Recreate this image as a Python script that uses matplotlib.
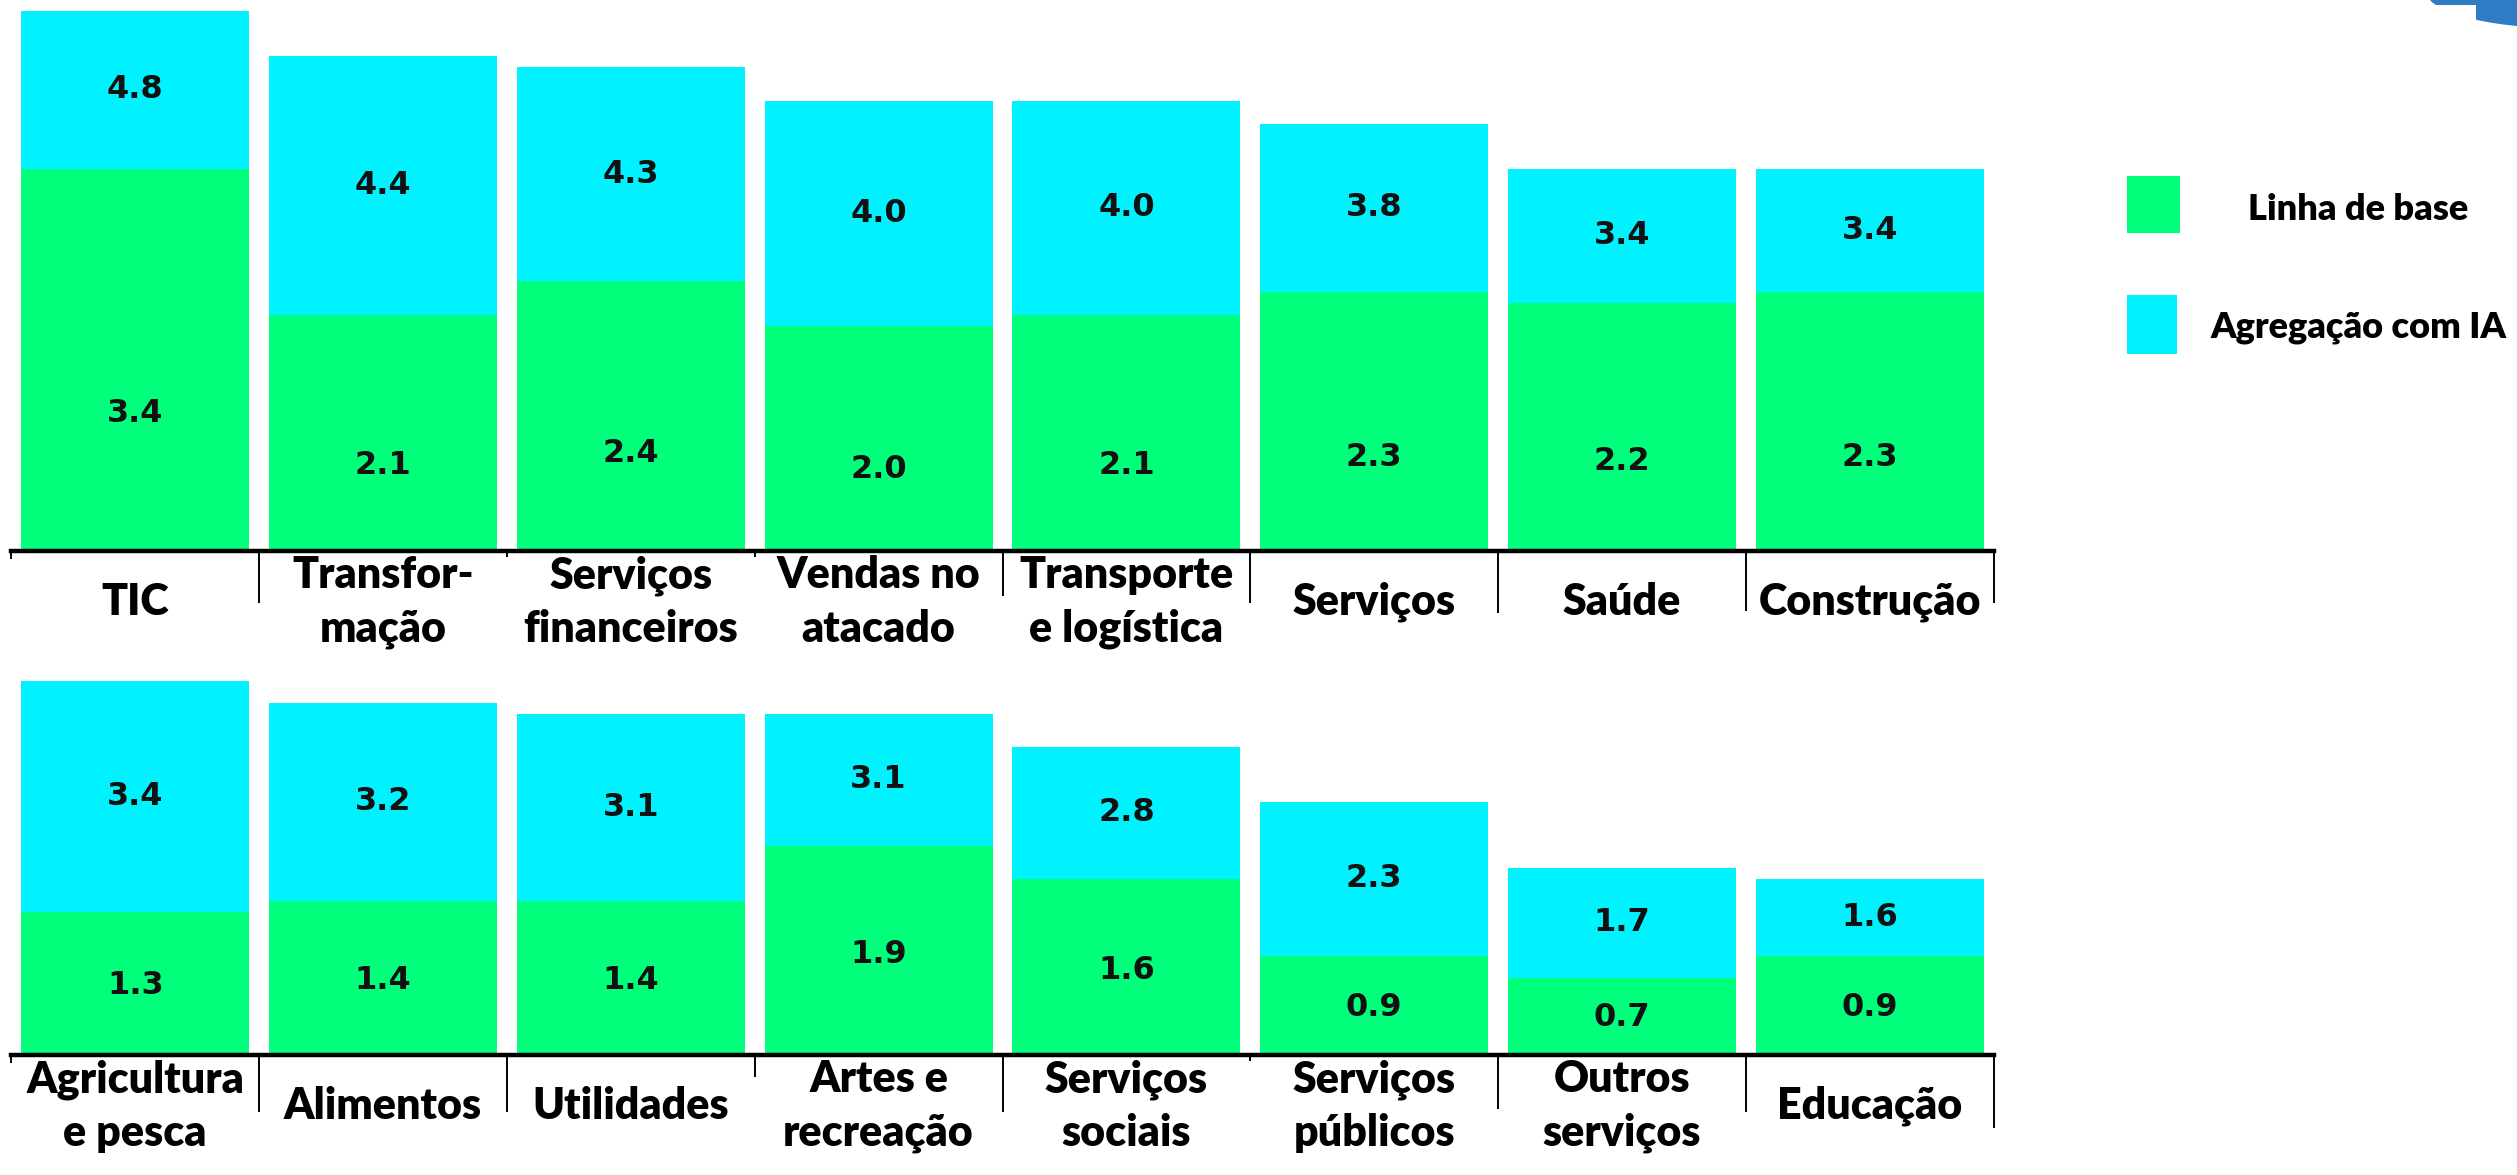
#!/usr/bin/env python3
"""Stacked bars: baseline vs. AI-aggregated value per sector, in two rows."""

import matplotlib

matplotlib.use("Agg")
import matplotlib.pyplot as plt
from matplotlib.patches import Ellipse, Rectangle

# --- data -------------------------------------------------------------------
top_categories = ["TIC", "Transfor-\nmação", "Serviços\nfinanceiros", "Vendas no\natacado",
                  "Transporte\ne logística", "Serviços", "Saúde", "Construção"]
top_base = [3.4, 2.1, 2.4, 2.0, 2.1, 2.3, 2.2, 2.3]
top_total = [4.8, 4.4, 4.3, 4.0, 4.0, 3.8, 3.4, 3.4]

bottom_categories = ["Agricultura\ne pesca", "Alimentos", "Utilidades", "Artes e\nrecreação",
                     "Serviços\nsociais", "Serviços\npúblicos", "Outros\nserviços", "Educação"]
bottom_base = [1.3, 1.4, 1.4, 1.9, 1.6, 0.9, 0.7, 0.9]
bottom_total = [3.4, 3.2, 3.1, 3.1, 2.8, 2.3, 1.7, 1.6]

legend_labels = ["Linha de base", "Agregação com IA"]

GREEN = "#00FF7A"
CYAN = "#00F2FF"
LABEL_FONT = ["Lato", "DejaVu Sans"]
VALUE_FONT = ["DejaVu Sans"]

# separator tick lengths (px) copied from the hand-drawn axes of the original
top_tick_px = [8, 52, 6, 6, 45, 52, 62, 60, 52]
bottom_tick_px = [8, 57, 57, 22, 57, 6, 54, 57, 73]


def draw_panel(ax, cats, base, total, ymax, base_frac, tick_px):
    x = list(range(len(cats)))
    extra = [t - b for t, b in zip(total, base)]
    ax.bar(x, base, width=0.92, color=GREEN, edgecolor="none")
    ax.bar(x, extra, bottom=base, width=0.92, color=CYAN, edgecolor="none")

    for xi, b, t in zip(x, base, total):
        ax.text(xi, b * base_frac, f"{b:.1f}", ha="center", va="center",
                fontsize=23, fontweight="bold", family=VALUE_FONT, color="#111111")
        ax.text(xi, (b + t) / 2, f"{t:.1f}", ha="center", va="center",
                fontsize=23, fontweight="bold", family=VALUE_FONT, color="#111111")

    ax.set_xlim(-0.5, len(cats) - 0.5)
    ax.set_ylim(0, ymax)
    for s in ("top", "right", "left"):
        ax.spines[s].set_visible(False)
    ax.spines["bottom"].set_linewidth(3.2)
    ax.set_yticks([])

    # boundary ticks as major, category labels as minor
    ax.set_xticks([i - 0.5 for i in range(len(cats) + 1)])
    ax.set_xticklabels([])
    ax.tick_params(axis="x", which="major", width=1.4, direction="out")
    for tick, px in zip(ax.xaxis.get_major_ticks(), tick_px):
        tick.tick1line.set_markersize(px * 0.72)
    ax.set_xticks(x, minor=True)
    ax.set_xticklabels(cats, minor=True)
    ax.tick_params(axis="x", which="minor", length=0, pad=37)
    for lab in ax.get_xticklabels(minor=True):
        lab.set_va("center")
        lab.set_family(LABEL_FONT)
        lab.set_fontweight("heavy")
        lab.set_fontsize(31)
        lab.set_linespacing(1.4)


fig = plt.figure(figsize=(25.17, 11.75), dpi=100)

ax_top = fig.add_axes([0.0045, 0.5314, 0.7876, 0.459])
draw_panel(ax_top, top_categories, top_base, top_total, 4.8, 0.36, top_tick_px)

ax_bot = fig.add_axes([0.0045, 0.1025, 0.7876, 0.318])
draw_panel(ax_bot, bottom_categories, bottom_base, bottom_total, 3.4, 0.48, bottom_tick_px)

# legend drawn by hand in figure coordinates
fig.add_artist(Rectangle((0.845, 0.802), 0.021, 0.048, transform=fig.transFigure,
                         color=GREEN, lw=0))
fig.add_artist(Rectangle((0.845, 0.699), 0.020, 0.050, transform=fig.transFigure,
                         color=CYAN, lw=0))
fig.text(0.937, 0.822, legend_labels[0], ha="center", va="center", fontsize=26,
         fontweight="heavy", family=LABEL_FONT)
fig.text(0.937, 0.721, legend_labels[1], ha="center", va="center", fontsize=26,
         fontweight="heavy", family=LABEL_FONT)

# fragment of a logo cut by the image edge (top right), partly hidden by a white card
fig.add_artist(Ellipse((2560, 1175 + 10), 270, 76, transform=None, color="#2F7BC4", lw=0))
fig.add_artist(Rectangle((2290, 1175 - 45), 186, 40, transform=None, color="white", lw=0))

fig.savefig("out.png", dpi=100)
